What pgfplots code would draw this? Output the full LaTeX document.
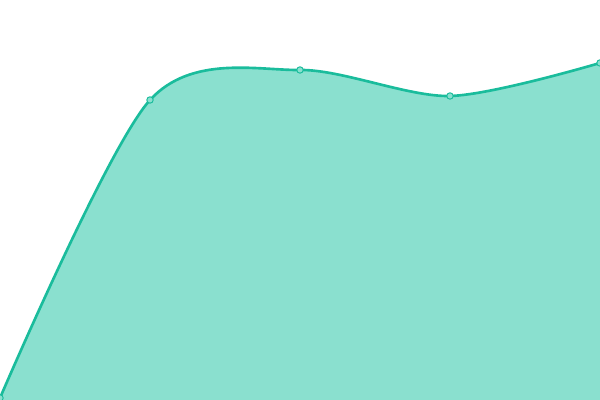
\documentclass[border=0pt]{standalone}
\usepackage{pgfplots}
\pgfplotsset{compat=1.18}
\definecolor{lineC}{RGB}{26,188,156}
\definecolor{fillC}{RGB}{138,224,207}
\begin{document}
\begin{tikzpicture}
\begin{axis}[
  width=6in, height=4in, scale only axis,
  xmin=0, xmax=600, ymin=0, ymax=400,
  hide axis, clip=true,
]
\addplot[draw=none, fill=fillC, smooth, tension=0.5] coordinates {
  (0,2) (150,300) (300,330) (450,304) (600,337)
} \closedcycle;
\addplot[lineC, line width=1.9bp, smooth, tension=0.5,
  mark=*, mark size=2.3bp, mark options={fill=fillC, draw=lineC, line width=0.7bp}] coordinates {
  (0,2) (150,300) (300,330) (450,304) (600,337)
};
\end{axis}
\pgfresetboundingbox
\useasboundingbox (current axis.south west) rectangle (current axis.north east);
\end{tikzpicture}
\end{document}
